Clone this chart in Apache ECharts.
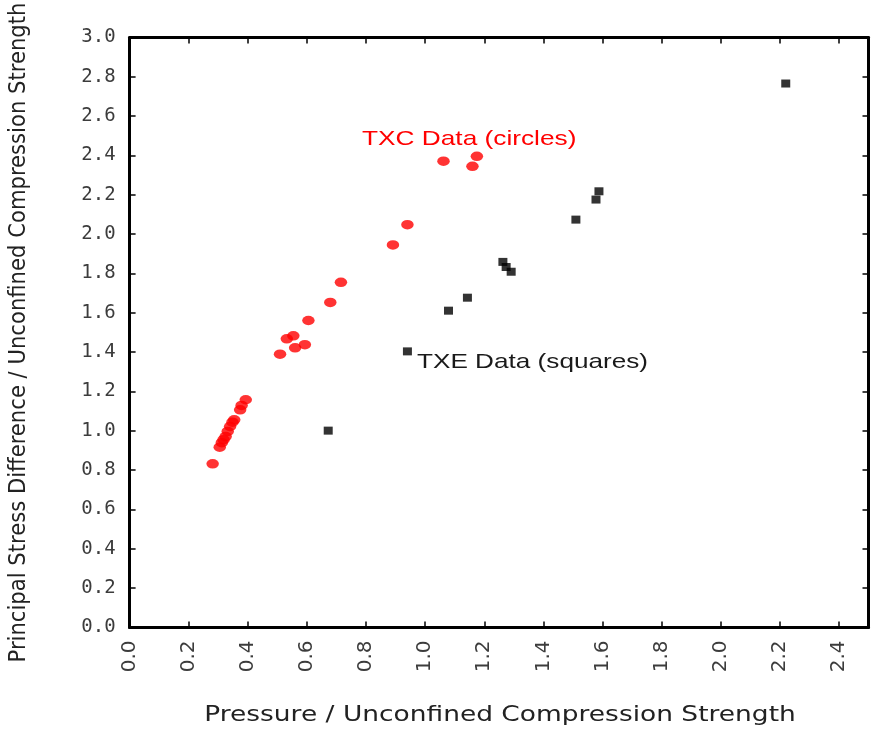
<!DOCTYPE html>
<html>
<head>
<meta charset="utf-8">
<style>
  html, body { margin: 0; padding: 0; background: #fff; }
  #chart { width: 871px; height: 730px; }
</style>
<script src="https://cdn.jsdelivr.net/npm/echarts@6/dist/echarts.min.js"></script>
</head>
<body>
<div id="chart"></div>
<script>
// Triaxial compression (TXC) results, normalised by unconfined strength
const txcPressure = [0.281, 0.305, 0.312, 0.318, 0.325, 0.332, 0.340, 0.348, 0.354, 0.374, 0.379, 0.393,
                     0.509, 0.532, 0.554, 0.560, 0.593, 0.605, 0.679, 0.715, 0.891, 0.940, 1.062, 1.160, 1.175];
const txcStress   = [0.832, 0.917, 0.940, 0.955, 0.971, 0.997, 1.022, 1.044, 1.056, 1.107, 1.129, 1.158,
                     1.390, 1.468, 1.483, 1.422, 1.438, 1.561, 1.653, 1.755, 1.945, 2.048, 2.371, 2.345, 2.396];

// Triaxial extension (TXE) results
const txePressure = [0.672, 0.940, 1.079, 1.143, 1.263, 1.274, 1.291, 1.510, 1.578, 1.588, 2.220];
const txeStress   = [1.001, 1.404, 1.611, 1.677, 1.859, 1.833, 1.809, 2.074, 2.176, 2.218, 2.766];

// Axis ranges and tick spacing
const xRange = [0, 2.5];
const yRange = [0, 3.0];
const tickStep = 0.2;

const xTitle = 'Pressure / Unconfined Compression Strength';
const yTitle = 'Principal Stress Difference / Unconfined Compression Strength';
const txcLabel = 'TXC Data (circles)';
const txeLabel = 'TXE Data (squares)';

const zip = (a, b) => a.map((v, i) => [v, b[i]]);

const chart = echarts.init(document.getElementById('chart'), null, { renderer: 'canvas' });

const frameLine = { show: true, onZero: false, lineStyle: { color: '#000', width: 3 } };
const innerTick = { show: true, inside: true, length: 6, lineStyle: { color: '#000', width: 1.5 } };
const labelColor = '#3c3c3c';

chart.setOption({
  animation: false,
  backgroundColor: '#fff',
  grid: { left: 129.6, right: 2.5, top: 37.5, bottom: 102.5, containLabel: false, outerBoundsMode: 'none' },
  xAxis: [
    {
      type: 'value', position: 'bottom', min: xRange[0], max: xRange[1], interval: tickStep,
      axisLine: frameLine, axisTick: innerTick, splitLine: { show: false },
      axisLabel: {
        rotate: 90, margin: 13, color: labelColor, fontFamily: 'DejaVu Sans', fontSize: 20,
        showMaxLabel: false,
        formatter: v => v.toFixed(1)
      }
    },
    {
      type: 'value', position: 'top', min: xRange[0], max: xRange[1], interval: tickStep,
      axisLine: frameLine, axisTick: innerTick, axisLabel: { show: false }, splitLine: { show: false }
    }
  ],
  yAxis: [
    {
      type: 'value', position: 'left', min: yRange[0], max: yRange[1], interval: tickStep,
      axisLine: frameLine, axisTick: innerTick, splitLine: { show: false },
      axisLabel: {
        margin: 14, color: labelColor, fontFamily: 'DejaVu Sans Mono', fontSize: 19,
        formatter: v => v.toFixed(1)
      },
      name: yTitle, nameLocation: 'middle', nameGap: 99, nameRotate: 90,
      nameTextStyle: { fontFamily: '"Liberation Sans Narrow", "DejaVu Sans Condensed", sans-serif', fontSize: 23.5, color: '#222' }
    },
    {
      type: 'value', position: 'right', min: yRange[0], max: yRange[1], interval: tickStep,
      axisLine: frameLine, axisTick: innerTick, axisLabel: { show: false }, splitLine: { show: false }
    }
  ],
  series: [
    {
      name: 'TXC', type: 'scatter', xAxisIndex: 0, yAxisIndex: 0,
      symbol: 'circle', symbolSize: [12.5, 9.5],
      itemStyle: { color: '#ff0000' },
      data: zip(txcPressure, txcStress)
    },
    {
      name: 'TXE', type: 'scatter', xAxisIndex: 0, yAxisIndex: 0,
      symbol: 'rect', symbolSize: [9, 8],
      itemStyle: { color: '#000' },
      data: zip(txePressure, txeStress)
    }
  ],
  graphic: [
    {
      type: 'text', x: 500, y: 716, scaleX: 1.29,
      style: {
        text: xTitle, fill: '#222', align: 'center', verticalAlign: 'middle',
        font: '20.5px "DejaVu Sans", sans-serif'
      }
    },
    {
      type: 'text', x: 362, y: 139, scaleX: 1.25,
      style: {
        text: txcLabel, fill: '#ff0000', verticalAlign: 'middle',
        font: '21px "Liberation Sans", Arial, sans-serif'
      }
    },
    {
      type: 'text', x: 417, y: 362, scaleX: 1.245,
      style: {
        text: txeLabel, fill: '#1a1a1a', verticalAlign: 'middle',
        font: '21px "Liberation Sans", Arial, sans-serif'
      }
    }
  ]
});
</script>
</body>
</html>
